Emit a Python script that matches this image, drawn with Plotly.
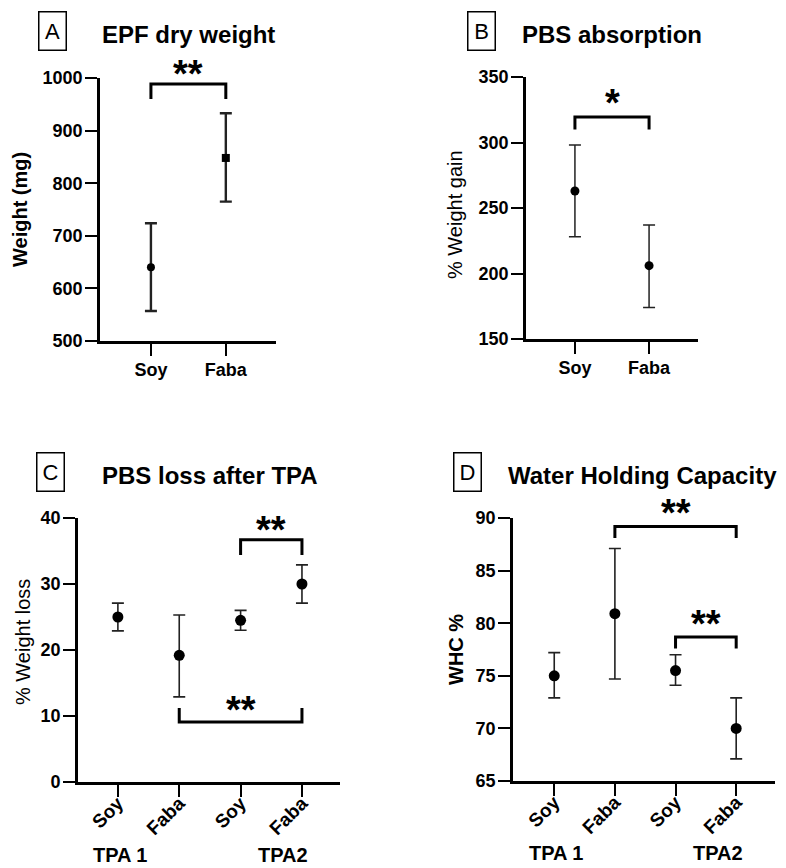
import plotly.graph_objects as go

W, H = 786, 868
OFF = 8  # default page body margin of the html page
FONT = "Liberation Sans, Arial, sans-serif"

# ---------------- data ----------------
A_cats = ["Soy", "Faba"]
A_mean = [640, 848]
A_low = [557, 765]
A_high = [724, 933]

B_cats = ["Soy", "Faba"]
B_mean = [263, 206]
B_low = [228, 174]
B_high = [298, 237]

C_cats = ["Soy", "Faba", "Soy", "Faba"]
C_mean = [25.0, 19.2, 24.5, 30.0]
C_low = [22.9, 12.9, 23.0, 27.1]
C_high = [27.1, 25.3, 26.0, 32.9]

D_cats = ["Soy", "Faba", "Soy", "Faba"]
D_mean = [75.0, 80.9, 75.5, 70.0]
D_low = [72.9, 74.7, 74.1, 67.1]
D_high = [77.2, 87.1, 77.0, 72.9]

groups = ["TPA 1", "TPA2"]

# brackets: (from index, to index, bar level, leg end level, label, label level)
A_brackets = [(0, 1, 988.5, 960, "**", 1024)]
B_brackets = [(0, 1, 319.5, 310, "*", 337)]
C_brackets = [(2, 3, 36.7, 34.4, "**", 39.5), (1, 3, 9.1, 11.2, "**", 12.2)]
D_brackets = [(1, 3, 89.2, 88.1, "**", 91.3), (2, 3, 78.7, 77.6, "**", 80.8)]


def fx(px):
    return (px - OFF) / W


def fy(py):
    return 1 - (py - OFF) / H


panels = [
    dict(c=A_cats, m=A_mean, lo=A_low, hi=A_high, xd=[fx(100), fx(276)], yd=[fy(341), fy(78)],
         xr=[-0.68, 1.67], yr=[500, 1000], dt=100, sym=["circle", "square"], ms=8, ew=2.4,
         br=A_brackets, rot=False),
    dict(c=B_cats, m=B_mean, lo=B_low, hi=B_high, xd=[fx(526), fx(698)], yd=[fy(339), fy(77)],
         xr=[-0.66, 1.66], yr=[150, 350], dt=50, sym=["circle", "circle"], ms=9, ew=1.5,
         br=B_brackets, rot=False),
    dict(c=C_cats, m=C_mean, lo=C_low, hi=C_high, xd=[fx(78), fx(340)], yd=[fy(782), fy(518)],
         xr=[-0.65, 3.62], yr=[0, 40], dt=10, sym=["circle"] * 4, ms=11, ew=1.6,
         br=C_brackets, rot=True),
    dict(c=D_cats, m=D_mean, lo=D_low, hi=D_high, xd=[fx(513), fx(775)], yd=[fy(781), fy(518)],
         xr=[-0.68, 3.64], yr=[65, 90], dt=5, sym=["circle"] * 4, ms=11, ew=1.6,
         br=D_brackets, rot=True),
]

fig = go.Figure()
shapes = []
annotations = []

for i, p in enumerate(panels, start=1):
    xa = "x" if i == 1 else f"x{i}"
    ya = "y" if i == 1 else f"y{i}"
    xs = list(range(len(p["c"])))
    plus = [h - m for h, m in zip(p["hi"], p["m"])]
    minus = [m - l for m, l in zip(p["m"], p["lo"])]
    fig.add_trace(go.Scatter(
        x=xs, y=p["m"], mode="markers", xaxis=xa, yaxis=ya,
        marker=dict(color="black", size=p["ms"], symbol=p["sym"]),
        error_y=dict(type="data", symmetric=False, array=plus, arrayminus=minus,
                     color="#222222", thickness=p["ew"], width=6),
        showlegend=False, cliponaxis=False,
    ))
    axkey_x = "xaxis" if i == 1 else f"xaxis{i}"
    axkey_y = "yaxis" if i == 1 else f"yaxis{i}"
    fig.layout[axkey_x] = dict(
        domain=p["xd"], anchor=ya, range=p["xr"], tickvals=xs, ticktext=p["c"],
        showline=True, linecolor="black", linewidth=2.6, ticks="outside", ticklen=12,
        tickwidth=2.4, tickcolor="black", showgrid=False, zeroline=False, automargin=False,
        tickangle=-45 if p["rot"] else 0,
        ticklabelstandoff=-12 if p["rot"] else -1,
        tickfont=dict(family=FONT, size=19 if p["rot"] else 18, color="black", weight="bold"),
    )
    fig.layout[axkey_y] = dict(
        domain=p["yd"], anchor=xa, range=p["yr"], dtick=p["dt"], tick0=p["yr"][0],
        showline=True, linecolor="black", linewidth=2.6, ticks="outside", ticklen=12,
        tickwidth=2.4, tickcolor="black", showgrid=False, zeroline=False, automargin=False,
        ticklabelstandoff=-1,
        tickfont=dict(family=FONT, size=18, color="black", weight="bold"),
    )
    y0, y1 = p["yd"]
    r0, r1 = p["yr"]
    for (a, b, bar, leg, lab, laby) in p["br"]:
        shapes.append(dict(type="path", xref=xa, yref=ya,
                           path=f"M {a},{leg} L {a},{bar} L {b},{bar} L {b},{leg}",
                           line=dict(color="black", width=3)))
        annotations.append(dict(x=(a + b) / 2, y=y0 + (laby - r0) / (r1 - r0) * (y1 - y0),
                                xref=xa, yref="paper", text=lab,
                                showarrow=False, yanchor="middle", yshift=-9,
                                font=dict(family=FONT, size=38, color="black", weight="bold")))

# titles and letter boxes
titles = [("A", "EPF dry weight", 38, 100, 34), ("B", "PBS absorption", 467, 520, 34),
          ("C", "PBS loss after TPA", 36, 100, 475), ("D", "Water Holding Capacity", 453, 506, 475)]
for letter, t, lx, tx, ty in titles:
    annotations.append(dict(x=fx(lx), y=fy(ty - 3), xref="paper", yref="paper", text=letter,
                            showarrow=False, xanchor="left", yanchor="middle",
                            width=24, height=35, borderpad=1, bordercolor="black", borderwidth=1.5,
                            font=dict(family=FONT, size=22, color="black")))
    annotations.append(dict(x=fx(tx), y=fy(ty), xref="paper", yref="paper", text=t,
                            showarrow=False, xanchor="left", yanchor="middle",
                            font=dict(family=FONT, size=24, color="black", weight="bold")))

# y-axis titles
ytitles = [("Weight (mg)", 20, 210, "bold"), ("% Weight gain", 455, 215, "normal"),
           ("% Weight loss", 23, 642, "normal"), ("WHC %", 456, 650, "bold")]
for t, x, y, wgt in ytitles:
    annotations.append(dict(x=fx(x), y=fy(y), xref="paper", yref="paper", text=t,
                            showarrow=False, textangle=-90, xanchor="center", yanchor="middle",
                            font=dict(family=FONT, size=20, color="black", weight=wgt)))

# group labels
for gx, gy, g in [(120, 855, groups[0]), (283, 855, groups[1]),
                  (556, 853, groups[0]), (718, 853, groups[1])]:
    annotations.append(dict(x=fx(gx), y=fy(gy), xref="paper", yref="paper", text=g,
                            showarrow=False, xanchor="center", yanchor="middle",
                            font=dict(family=FONT, size=20, color="black", weight="bold")))

fig.update_layout(
    width=W, height=H, margin=dict(l=0, r=0, t=0, b=0, autoexpand=False),
    paper_bgcolor="white", plot_bgcolor="white",
    shapes=shapes, annotations=annotations, showlegend=False,
)

fig.write_html("out.html")
